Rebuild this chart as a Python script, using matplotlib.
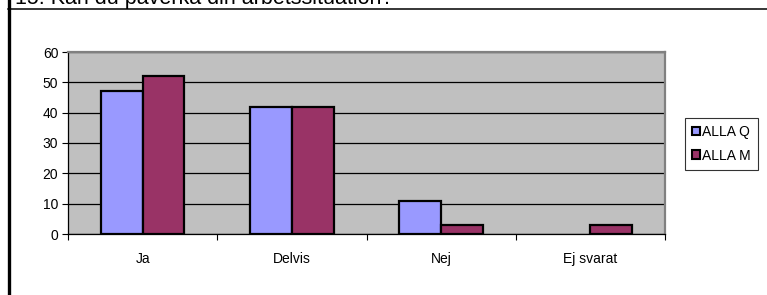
import matplotlib
matplotlib.use("Agg")
import matplotlib.pyplot as plt
from matplotlib.lines import Line2D
from matplotlib.patches import Patch
import numpy as np

plt.rcParams['font.family'] = ['Liberation Sans', 'DejaVu Sans']

# --- Daten ---
kategorier = ["Ja", "Delvis", "Nej", "Ej svarat"]
alla_q = [47, 42, 11, 0]
alla_m = [52, 42, 3, 3]
rubrik = "15. Kan du påverka din arbetssituation?"

W, H = 767, 295
fig = plt.figure(figsize=(W / 100, H / 100), dpi=100)
fig.patch.set_facecolor("white")

# Ram runt diagrammet (vänster kant + linje under rubriken)
fig.add_artist(Line2D([9 / W, 9 / W], [0, 1], color="black", lw=2.4))
fig.add_artist(Line2D([8 / W, 1], [1 - 8.5 / H, 1 - 8.5 / H], color="black", lw=1.1))
fig.text(15 / W, 1 - 4 / H, rubrik, fontsize=15.5, va="baseline", ha="left")

# --- Diagram ---
ax = fig.add_axes([68 / W, (H - 234) / H, (665 - 68) / W, (234 - 52) / H])
ax.set_facecolor("#C0C0C0")

x = np.arange(len(kategorier))
bw = 0.28
lw_q = [1.6 if v else 0 for v in alla_q]
lw_m = [1.6 if v else 0 for v in alla_m]
ax.bar(x - bw / 2, alla_q, bw, color="#9999FF", edgecolor="black", linewidth=lw_q, zorder=3)
ax.bar(x + bw / 2, alla_m, bw, color="#993366", edgecolor="black", linewidth=lw_m, zorder=3)

ax.set_xlim(-0.5, len(kategorier) - 0.5)
ax.set_ylim(0, 60)
ax.set_yticks(range(0, 61, 10))
ax.yaxis.grid(True, color="black", lw=0.9, zorder=1)
ax.set_axisbelow(True)

ax.set_xticks(x)
ax.set_xticklabels(kategorier)
ax.set_xticks(np.arange(-0.5, len(kategorier)), minor=True)
ax.tick_params(axis="x", which="major", length=0, pad=13, labelsize=10)
ax.tick_params(axis="x", which="minor", length=4, width=0.8, direction="out", colors="black")
ax.tick_params(axis="y", length=4, width=0.8, direction="out", labelsize=10, pad=3)

for side in ["top", "right"]:
    ax.spines[side].set_color("#808080")
    ax.spines[side].set_linewidth(1.6)
ax.spines["left"].set_color("black")
ax.spines["bottom"].set_color("black")
ax.spines["left"].set_linewidth(0.9)
ax.spines["bottom"].set_linewidth(0.9)

# --- Legend ---
handles = [Patch(facecolor="#9999FF", edgecolor="black", linewidth=1.5, label="ALLA Q"),
           Patch(facecolor="#993366", edgecolor="black", linewidth=1.5, label="ALLA M")]
leg = fig.legend(handles=handles, loc="upper left", bbox_to_anchor=(685 / W, 1 - 118 / H),
                 fontsize=10, frameon=True, fancybox=False, handlelength=0.6, handleheight=0.6,
                 handletextpad=0.15, borderpad=0.5, labelspacing=0.7, borderaxespad=0)
leg.get_frame().set_edgecolor("black")
leg.get_frame().set_linewidth(0.8)

fig.savefig("out.png", dpi=100)
